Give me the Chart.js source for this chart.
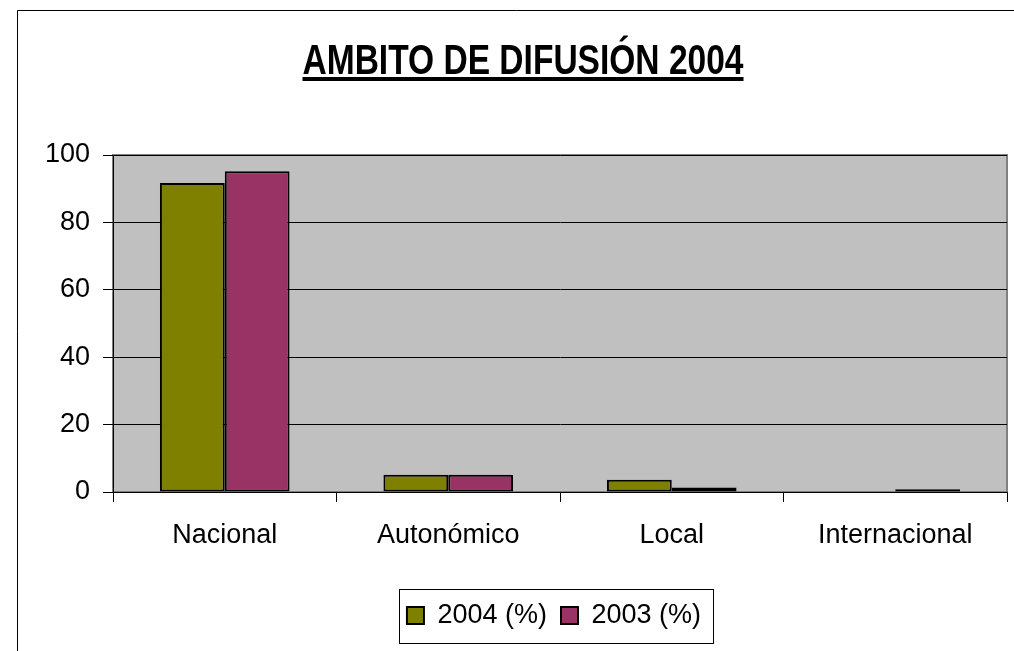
<!DOCTYPE html>
<html>
<head>
<meta charset="utf-8">
<script src="https://cdn.jsdelivr.net/npm/chart.js@4.4.1/dist/chart.umd.min.js"></script>
<style>
  html, body { margin: 0; padding: 0; background: #ffffff; }
  #wrap { width: 1014px; height: 651px; position: relative; }
</style>
</head>
<body>
<div id="wrap"><canvas id="c" width="1014" height="651"></canvas></div>
<script>
const categories = ['Nacional', 'Autonómico', 'Local', 'Internacional'];
const values2004 = [91.7, 5.1, 3.6, 0];
const values2003 = [95.2, 5.1, 1.3, 0.8];
const seriesNames = ['2004 (%)', '2003 (%)'];
const yTickMin = 0, yTickMax = 100, yTickStep = 20;
const titleText = 'AMBITO DE DIFUSIÓN 2004';

const BASE_FONT = "'Liberation Sans', Arial, sans-serif";

const framePlugin = {
  id: 'frame',
  beforeDraw(chart) {
    const ctx = chart.ctx;
    const a = chart.chartArea;
    ctx.save();
    ctx.strokeStyle = '#000';
    ctx.lineWidth = 1;
    ctx.beginPath();
    ctx.moveTo(17.5, 700);
    ctx.lineTo(17.5, 10.5);
    ctx.lineTo(1100, 10.5);
    ctx.stroke();
    ctx.fillStyle = '#C0C0C0';
    ctx.fillRect(a.left, a.top, a.right - a.left, a.bottom - a.top);
    ctx.strokeStyle = '#808080';
    ctx.lineWidth = 2;
    ctx.strokeRect(a.left, a.top, a.right - a.left, a.bottom - a.top);
    ctx.restore();
  },
  afterLayout(chart) {
    const lg = chart.legend;
    if (!lg) return;
    const desired = 554;
    const delta = desired - (lg.left + lg.right) / 2;
    lg.left += delta;
    lg.right += delta;
  },
  afterDraw(chart) {
    const ctx = chart.ctx;
    ctx.save();
    ctx.font = "bold 42px " + BASE_FONT;
    const natural = ctx.measureText(titleText).width;
    const targetW = 441;
    const sx = targetW / natural;
    const cx = 523;
    const baseline = 74;
    ctx.fillStyle = '#000';
    ctx.textAlign = 'center';
    ctx.textBaseline = 'alphabetic';
    ctx.save();
    ctx.translate(cx, baseline);
    ctx.scale(sx, 1);
    ctx.fillText(titleText, 0, 0);
    ctx.restore();
    ctx.fillRect(cx - targetW / 2, 77, targetW, 4);
    const lg = chart.legend;
    if (lg && lg.lineWidths) {
      const pad = lg.options.labels.padding;
      const contentW = lg.lineWidths[0] - pad;
      const lcx = (lg.left + lg.right) / 2;
      const itemH = 27;
      const cy = lg.top + pad + itemH / 2;
      ctx.strokeStyle = '#000';
      ctx.lineWidth = 1;
      ctx.strokeRect(Math.round(lcx - contentW / 2 - 8) + 0.5, Math.round(cy - 27) + 0.5,
        Math.round(contentW + 20), 54);
    }
    ctx.restore();
  }
};

new Chart(document.getElementById('c'), {
  type: 'bar',
  data: {
    labels: categories,
    datasets: [
      { label: seriesNames[0], data: values2004, backgroundColor: '#808000', borderColor: '#000', borderWidth: 2, borderSkipped: false },
      { label: seriesNames[1], data: values2003, backgroundColor: '#993366', borderColor: '#000', borderWidth: 2, borderSkipped: false }
    ]
  },
  options: {
    responsive: false,
    animation: false,
    datasets: { bar: { categoryPercentage: 0.58, barPercentage: 1.0 } },
    layout: { padding: { left: 0, right: 7, top: 155, bottom: 12 } },
    plugins: {
      tooltip: { enabled: false },
      title: { display: false },
      legend: {
        display: true,
        position: 'bottom',
        labels: {
          color: '#000',
          font: { family: BASE_FONT, size: 27 },
          boxWidth: 17,
          boxHeight: 17,
          padding: 14
        }
      }
    },
    scales: {
      x: {
        offset: true,
        grid: { display: true, drawOnChartArea: false, drawTicks: true, tickLength: 10, color: '#000', offset: true },
        border: { display: true, color: '#000', width: 1 },
        ticks: { color: '#000', font: { family: BASE_FONT, size: 27 }, padding: 17, maxRotation: 0 },
        afterFit(scale) { scale.height = 96; }
      },
      y: {
        min: yTickMin, max: yTickMax,
        grid: { color: '#000', lineWidth: 1, drawTicks: true, tickLength: 10 },
        border: { display: true, color: '#000', width: 1 },
        ticks: { stepSize: yTickStep, color: '#000', font: { family: BASE_FONT, size: 27 }, padding: 13 },
        afterFit(scale) { scale.width = 113; }
      }
    }
  },
  plugins: [framePlugin]
});
</script>
</body>
</html>
